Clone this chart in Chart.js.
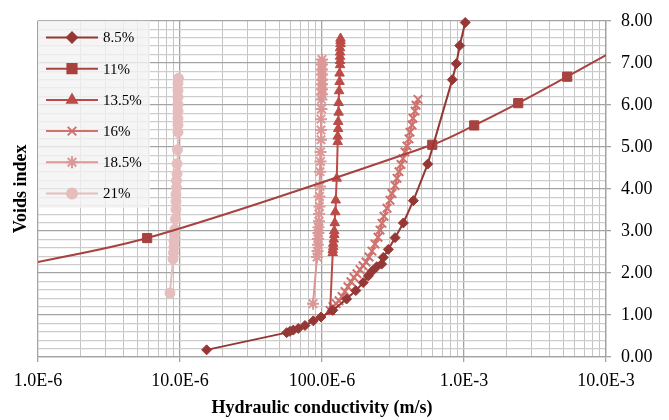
<!DOCTYPE html>
<html>
<head>
<meta charset="utf-8">
<title>Voids index - Hydraulic conductivity</title>
<script src="https://cdn.jsdelivr.net/npm/chart.js@4.4.0/dist/chart.umd.min.js"></script>
<style>
  html, body { margin: 0; padding: 0; background: #fff; }
</style>
</head>
<body>
<canvas id="grafica-vacios" width="669" height="420"></canvas>
<script>
// Índice de vacíos frente a conductividad hidráulica, una serie por contenido
const nombres = ['8.5%', '11%', '13.5%', '16%', '18.5%', '21%'];

// 8.5%
const k85 = [1.54e-5, 5.64e-5, 5.95e-5, 6.28e-5, 6.81e-5, 7.59e-5, 8.69e-5, 9.84e-5, 1.19e-4, 1.49e-4,
  1.73e-4, 1.95e-4, 2.12e-4, 2.25e-4, 2.43e-4, 2.63e-4, 2.70e-4, 2.93e-4, 3.27e-4, 3.74e-4,
  4.40e-4, 5.55e-4, 8.27e-4, 8.83e-4, 9.33e-4, 1.02e-3];
const e85 = [0.17, 0.58, 0.61, 0.64, 0.68, 0.75, 0.86, 0.95, 1.11, 1.38,
  1.58, 1.77, 1.93, 2.04, 2.15, 2.21, 2.37, 2.56, 2.84, 3.19,
  3.72, 4.59, 6.60, 6.98, 7.41, 7.96];

// 11% (el primer y último punto quedan fuera de los ejes)
const k11 = [4.0e-7, 5.87e-6, 5.98e-4, 1.18e-3, 2.41e-3, 5.33e-3, 1.3e-2];
const e11 = [2.00, 2.83, 5.05, 5.51, 6.04, 6.67, 7.40];

// 13.5%
const k135 = [1.14e-4, 1.19e-4, 1.19e-4, 1.20e-4, 1.20e-4, 1.21e-4, 1.22e-4, 1.22e-4, 1.23e-4, 1.24e-4,
  1.25e-4, 1.27e-4, 1.29e-4, 1.29e-4, 1.30e-4, 1.30e-4, 1.31e-4, 1.31e-4, 1.32e-4, 1.33e-4,
  1.33e-4, 1.34e-4, 1.34e-4, 1.34e-4, 1.34e-4, 1.34e-4, 1.35e-4, 1.35e-4, 1.35e-4];
const e135 = [1.08, 2.48, 2.55, 2.62, 2.70, 2.80, 2.91, 3.00, 3.19, 3.45,
  3.73, 4.25, 5.12, 5.25, 5.43, 5.60, 5.82, 6.05, 6.33, 6.55,
  6.75, 6.95, 7.05, 7.15, 7.25, 7.35, 7.45, 7.52, 7.58];

// 16%
const k16 = [1.14e-4, 1.195e-4, 1.256e-4, 1.318e-4, 1.383e-4, 1.452e-4, 1.524e-4, 1.600e-4, 1.680e-4, 1.764e-4,
  1.852e-4, 1.944e-4, 2.041e-4, 2.143e-4, 2.250e-4, 2.362e-4, 2.480e-4, 2.562e-4, 2.646e-4, 2.733e-4,
  2.870e-4, 3.013e-4, 3.112e-4, 3.267e-4, 3.375e-4, 3.486e-4, 3.600e-4, 3.719e-4, 3.841e-4, 3.968e-4,
  4.099e-4, 4.166e-4, 4.303e-4, 4.373e-4, 4.518e-4, 4.592e-4, 4.743e-4];
const e16 = [1.11, 1.20, 1.27, 1.34, 1.44, 1.56, 1.67, 1.79, 1.89, 1.98,
  2.08, 2.17, 2.26, 2.38, 2.52, 2.69, 2.85, 3.02, 3.18, 3.35,
  3.54, 3.73, 3.89, 4.08, 4.25, 4.41, 4.58, 4.72, 4.88, 5.02,
  5.19, 5.35, 5.52, 5.68, 5.85, 5.99, 6.13];

// 18.5%
const k185 = [8.65e-5, 9.23e-5, 9.29e-5, 9.37e-5, 9.37e-5, 9.44e-5, 9.44e-5, 9.52e-5, 9.52e-5, 9.60e-5,
  9.60e-5, 9.68e-5, 9.68e-5, 9.76e-5, 9.76e-5, 9.84e-5, 9.84e-5, 9.84e-5, 9.92e-5, 9.92e-5,
  1.00e-4, 1.00e-4, 1.00e-4, 1.00e-4, 1.00e-4, 1.00e-4, 1.00e-4, 1.00e-4];
const e185 = [1.27, 2.38, 2.52, 2.67, 2.81, 2.95, 3.09, 3.23, 3.40, 3.58,
  3.82, 4.06, 4.41, 4.65, 4.88, 5.17, 5.40, 5.66, 5.90, 6.13,
  6.25, 6.37, 6.49, 6.60, 6.72, 6.84, 6.96, 7.08];

// 21%
const k21 = [8.50e-6, 8.93e-6, 9.00e-6, 9.07e-6, 9.07e-6, 9.15e-6, 9.22e-6, 9.30e-6, 9.37e-6, 9.37e-6,
  9.37e-6, 9.45e-6, 9.45e-6, 9.53e-6, 9.53e-6, 9.60e-6, 9.68e-6, 9.68e-6, 9.68e-6, 9.68e-6,
  9.68e-6, 9.68e-6, 9.68e-6, 9.68e-6, 9.76e-6];
const e21 = [1.52, 2.33, 2.48, 2.62, 2.76, 2.90, 3.04, 3.28, 3.51, 3.70,
  3.87, 4.03, 4.20, 4.36, 4.60, 4.93, 5.35, 5.52, 5.68, 5.85,
  6.01, 6.18, 6.34, 6.51, 6.63];

// Ejes
const decadas = [1e-6, 1e-5, 1e-4, 1e-3, 1e-2];
const etiquetasX = ['1.0E-6', '10.0E-6', '100.0E-6', '1.0E-3', '10.0E-3'];
const yMin = 0;
const yMax = 8;

const colores = ['#953735', '#A8423F', '#BC4B48', '#CF716D', '#DB9896', '#E6BDBC'];
const marcadores = ['rectRot', 'rect', 'triangle', 'crossRot', 'star', 'circle'];
const radios = [5, 6.5, 5.5, 6, 6, 5];
const fuente = "'Liberation Serif', 'Times New Roman', serif";

const gridMayor = '#a3a3a3';
const gridMenor = '#cdcdcd';

function esEntero(v) {
    return Math.abs(v - Math.round(v)) < 1e-6;
}
function esDecada(v) {
    return esEntero(Math.log10(v));
}

// Líneas de rejilla de x: 1..9 en cada década
const rejillaX = [];
for (let i = 0; i < decadas.length - 1; i++) {
    for (let m = 1; m <= 9; m++) {
        rejillaX.push(Number((decadas[i] * m).toPrecision(3)));
    }
}
rejillaX.push(decadas[decadas.length - 1]);

// Rejilla de y cada 0.2
const rejillaY = [];
for (let i = yMin * 5; i <= yMax * 5; i++) {
    rejillaY.push(Math.round(i * 2) / 10);
}

const pares = [[k85, e85], [k11, e11], [k135, e135], [k16, e16], [k185, e185], [k21, e21]];

const datasets = pares.map(([k, e], i) => ({
    label: nombres[i],
    data: k.map((x, j) => ({ x: x, y: e[j] })),
    showLine: true,
    borderColor: colores[i],
    backgroundColor: colores[i],
    borderWidth: 2,
    tension: i === 1 ? 0.3 : 0,
    pointStyle: marcadores[i],
    pointRadius: radios[i],
    pointHoverRadius: radios[i],
    pointBorderWidth: (i === 3 || i === 4) ? 2 : 1,
    pointBackgroundColor: colores[i],
    pointBorderColor: colores[i],
    clip: i === 1 ? 0 : false
}));

// Leyenda dentro del área de trazado, arriba a la izquierda
const leyendaInterior = {
    id: 'leyendaInterior',
    beforeDatasetsDraw(chart) {
        const { ctx, chartArea } = chart;
        const x0 = chartArea.left;
        const y0 = chartArea.top;
        ctx.save();
        ctx.fillStyle = 'rgba(242, 242, 242, 0.8)';
        ctx.fillRect(x0, y0, 112, 187);
        ctx.font = '15px ' + fuente;
        ctx.textBaseline = 'middle';
        ctx.textAlign = 'left';
        chart.data.datasets.forEach((ds, i) => {
            const y = y0 + 16.7 + i * 31.2;
            ctx.strokeStyle = ds.borderColor;
            ctx.lineWidth = 2;
            ctx.beginPath();
            ctx.moveTo(x0 + 8, y);
            ctx.lineTo(x0 + 60, y);
            ctx.stroke();
            ctx.fillStyle = ds.pointBackgroundColor;
            Chart.helpers.drawPoint(ctx, {
                pointStyle: ds.pointStyle,
                radius: ds.pointRadius,
                rotation: 0,
                borderWidth: ds.pointBorderWidth
            }, x0 + 34, y);
            ctx.fillStyle = '#000';
            ctx.fillText(ds.label, x0 + 65, y + 1);
        });
        ctx.restore();
    }
};

const ctx = document.getElementById('grafica-vacios').getContext('2d');
const graficaVacios = new Chart(ctx, {
    type: 'scatter',
    data: { datasets: datasets },
    plugins: [leyendaInterior],
    options: {
        responsive: false,
        animation: false,
        layout: { padding: { left: 0, right: 0, top: 18, bottom: 0 } },
        plugins: {
            legend: { display: false },
            tooltip: { enabled: false }
        },
        scales: {
            x: {
                type: 'logarithmic',
                min: decadas[0],
                max: decadas[decadas.length - 1],
                afterBuildTicks: (eje) => {
                    eje.ticks = rejillaX.map(v => ({ value: v, major: esDecada(v) }));
                },
                afterFit: (eje) => { eje.height = 63; },
                ticks: {
                    autoSkip: false,
                    maxRotation: 0,
                    padding: 8,
                    color: '#000',
                    font: { family: fuente, size: 18 },
                    callback: (v) => {
                        const idx = decadas.findIndex(d => Math.abs(Math.log10(d) - Math.log10(v)) < 1e-6);
                        return idx >= 0 ? etiquetasX[idx] : '';
                    }
                },
                grid: {
                    color: (c) => (c.tick && esDecada(c.tick.value)) ? gridMayor : '#c4c4c4',
                    lineWidth: (c) => (c.tick && esDecada(c.tick.value)) ? 1.3 : 1,
                    tickLength: 5,
                    tickColor: (c) => (c.tick && esDecada(c.tick.value)) ? gridMayor : 'rgba(0,0,0,0)'
                },
                border: { color: gridMayor, width: 1.3 },
                title: {
                    display: true,
                    text: 'Hydraulic conductivity (m/s)',
                    color: '#000',
                    font: { family: fuente, size: 18, weight: 'bold' },
                    padding: { top: 0, bottom: 1 }
                }
            },
            y: {
                type: 'linear',
                position: 'right',
                min: yMin,
                max: yMax,
                afterBuildTicks: (eje) => {
                    eje.ticks = rejillaY.map(v => ({ value: v }));
                },
                afterFit: (eje) => { eje.width = 63; },
                ticks: {
                    autoSkip: false,
                    padding: 10,
                    color: '#000',
                    font: { family: fuente, size: 18 },
                    callback: (v) => esEntero(v) ? v.toFixed(2) : ''
                },
                grid: {
                    color: (c) => (c.tick && esEntero(c.tick.value)) ? gridMayor : gridMenor,
                    lineWidth: (c) => (c.tick && esEntero(c.tick.value)) ? 1.3 : 1.2,
                    tickLength: 5,
                    tickColor: (c) => (c.tick && esEntero(c.tick.value)) ? gridMayor : 'rgba(0,0,0,0)'
                },
                border: { color: gridMayor, width: 1.3 }
            },
            yIzq: {
                type: 'linear',
                position: 'left',
                min: 0,
                max: 1,
                afterFit: (eje) => { eje.width = 38; },
                grid: { display: false, drawTicks: false },
                border: { display: false },
                ticks: { display: false },
                title: {
                    display: true,
                    text: 'Voids index',
                    color: '#000',
                    font: { family: fuente, size: 18, weight: 'bold' },
                    padding: { top: 11, bottom: 4 }
                }
            }
        }
    }
});
</script>
</body>
</html>
